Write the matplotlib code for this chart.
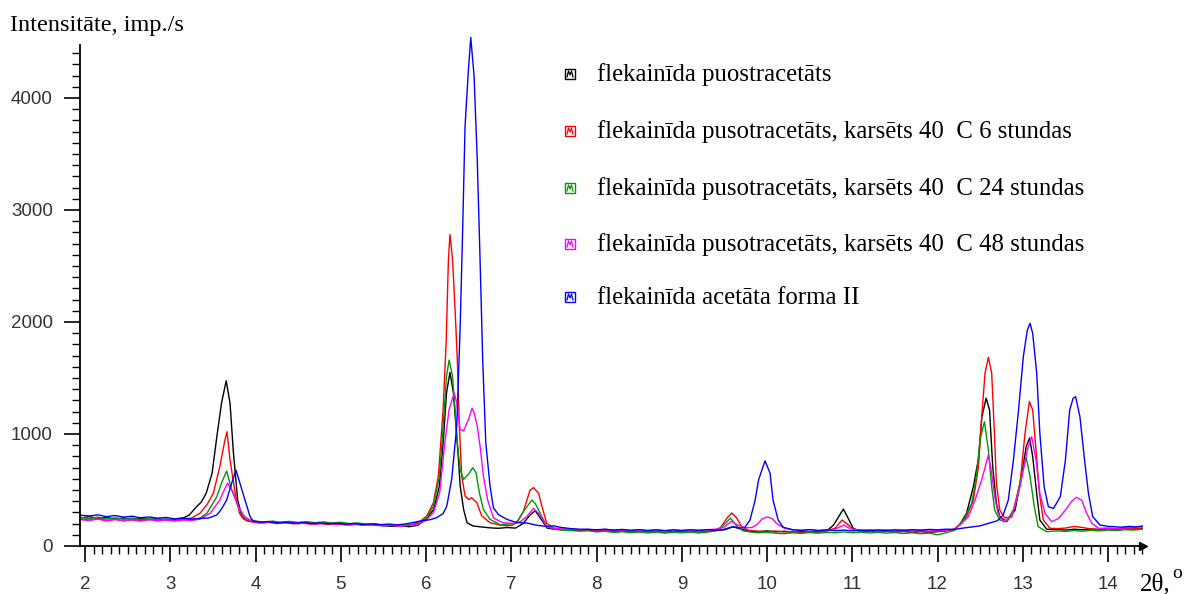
import matplotlib
matplotlib.use("Agg")
import matplotlib.pyplot as plt
from matplotlib.ticker import MultipleLocator
from matplotlib.patches import Rectangle
from matplotlib.lines import Line2D

# (2theta, intensity)
black_pts = [(1.95,250),(2.05,262),(2.15,245),(2.25,255),(2.35,240),(2.45,250),(2.55,238),(2.65,248),(2.75,236),(2.85,244),
    (2.95,232),(3.05,240),(3.15,250),(3.22,275),(3.30,345),(3.36,390),(3.42,470),(3.49,650),(3.545,975),(3.60,1275),
    (3.655,1475),(3.70,1275),(3.74,830),(3.79,410),(3.84,262),(3.90,225),(4.0,215),(4.1,210),(4.2,218),(4.3,205),
    (4.4,212),(4.5,200),(4.6,208),(4.7,198),(4.8,205),(4.9,195),(5.0,200),(5.1,190),(5.2,196),(5.3,185),(5.4,192),
    (5.5,180),(5.6,176),(5.7,183),(5.8,172),(5.9,185),(6.0,238),(6.09,327),(6.156,536),(6.20,923),(6.24,1369),
    (6.28,1550),(6.32,1369),(6.35,1071),(6.38,774),(6.40,536),(6.44,327),(6.48,208),(6.55,179),(6.65,170),(6.75,162),
    (6.85,158),(6.95,165),(7.05,160),(7.14,202),(7.22,277),(7.28,315),(7.34,250),(7.42,160),(7.5,150),(7.6,145),
    (7.7,148),(7.8,140),(7.9,145),(8.0,138),(8.1,132),(8.2,140),(8.3,130),(8.4,136),(8.5,128),(8.6,135),(8.7,130),
    (8.8,138),(8.9,126),(9.0,134),(9.1,128),(9.2,136),(9.3,130),(9.4,138),(9.5,145),(9.6,172),(9.7,150),(9.8,132),
    (9.9,128),(10.0,135),(10.1,126),(10.2,132),(10.3,124),(10.4,130),(10.5,122),(10.6,128),(10.7,135),(10.78,187),
    (10.84,262),(10.895,330),(10.95,250),(11.01,158),(11.1,130),(11.2,136),(11.3,128),(11.4,134),(11.5,126),
    (11.6,132),(11.7,124),(11.8,130),(11.9,122),(12.0,128),(12.1,135),(12.2,150),(12.26,190),(12.34,292),(12.42,530),
    (12.48,780),(12.52,1155),(12.57,1320),(12.61,1214),(12.647,708),(12.69,381),(12.73,262),(12.81,217),(12.91,321),
    (12.99,649),(13.04,887),(13.08,965),(13.116,798),(13.163,470),(13.20,232),(13.28,150),(13.4,148),(13.5,142),
    (13.6,150),(13.7,145),(13.8,152),(13.9,146),(14.0,154),(14.1,148),(14.2,156),(14.3,150),(14.4,158)]

red_pts = [(1.95,240),(2.05,232),(2.15,245),(2.25,228),(2.35,238),(2.45,225),(2.55,235),(2.65,228),(2.75,240),(2.85,226),
    (2.95,234),(3.05,228),(3.15,238),(3.25,250),(3.35,294),(3.43,370),(3.505,473),(3.58,708),(3.64,946),(3.665,1020),
    (3.70,768),(3.76,473),(3.81,294),(3.86,240),(3.95,215),(4.05,205),(4.15,212),(4.25,200),(4.35,208),(4.45,198),
    (4.55,205),(4.65,195),(4.75,202),(4.85,192),(4.95,198),(5.05,188),(5.15,195),(5.25,186),(5.35,190),(5.45,182),
    (5.55,188),(5.65,178),(5.75,184),(5.85,195),(5.93,220),(6.008,268),(6.086,387),(6.144,625),(6.20,1220),
    (6.235,1815),(6.262,2559),(6.28,2780),(6.31,2559),(6.34,2113),(6.366,1667),(6.39,1071),(6.418,625),(6.457,446),
    (6.50,415),(6.535,430),(6.594,387),(6.653,268),(6.75,208),(6.87,187),(6.95,180),(7.02,187),(7.08,230),(7.14,306),
    (7.22,500),(7.26,521),(7.32,470),(7.36,351),(7.415,202),(7.5,160),(7.6,150),(7.7,145),(7.8,140),(7.9,146),
    (8.0,134),(8.1,140),(8.2,128),(8.3,136),(8.4,126),(8.5,132),(8.6,124),(8.7,130),(8.8,122),(8.9,128),(9.0,125),
    (9.1,132),(9.2,124),(9.3,130),(9.38,140),(9.45,158),(9.53,250),(9.585,295),(9.645,250),(9.70,173),(9.78,140),
    (9.9,132),(10.0,128),(10.1,134),(10.2,125),(10.3,130),(10.4,122),(10.5,128),(10.6,124),(10.7,132),(10.8,160),
    (10.88,232),(10.95,190),(11.02,145),(11.1,130),(11.2,136),(11.3,126),(11.4,132),(11.5,124),(11.6,130),
    (11.7,122),(11.8,128),(11.9,125),(12.0,130),(12.1,138),(12.2,150),(12.26,187),(12.34,262),(12.42,410),
    (12.48,708),(12.518,1155),(12.557,1544),(12.596,1685),(12.635,1544),(12.667,1006),(12.69,560),(12.73,321),
    (12.79,250),(12.87,262),(12.968,560),(13.026,1006),(13.077,1290),(13.116,1214),(13.155,857),(13.195,470),
    (13.24,232),(13.32,158),(13.4,155),(13.5,160),(13.6,175),(13.7,165),(13.8,152),(13.9,148),(14.0,155),
    (14.1,150),(14.2,158),(14.3,152),(14.4,160)]

green_pts = [(1.95,255),(2.05,245),(2.15,258),(2.25,240),(2.35,252),(2.45,238),(2.55,250),(2.65,236),(2.75,246),
    (2.85,232),(2.95,242),(3.05,230),(3.15,240),(3.25,236),(3.35,250),(3.43,294),(3.545,440),(3.60,562),(3.66,670),
    (3.72,500),(3.78,384),(3.85,277),(3.92,235),(4.0,222),(4.1,215),(4.2,222),(4.3,212),(4.4,220),(4.5,210),
    (4.6,218),(4.7,208),(4.8,215),(4.9,205),(5.0,212),(5.1,200),(5.2,206),(5.3,194),(5.4,200),(5.5,188),(5.6,194),
    (5.7,184),(5.8,190),(5.9,198),(6.008,253),(6.086,357),(6.156,625),(6.20,1071),(6.24,1518),(6.27,1660),
    (6.31,1518),(6.34,1220),(6.366,923),(6.40,684),(6.44,595),(6.497,640),(6.547,699),(6.586,655),(6.625,476),
    (6.672,327),(6.75,238),(6.87,190),(6.95,195),(7.06,202),(7.14,306),(7.24,410),(7.28,380),(7.34,292),
    (7.415,173),(7.5,150),(7.6,142),(7.7,138),(7.8,132),(7.9,136),(8.0,126),(8.1,132),(8.2,120),(8.3,128),
    (8.4,118),(8.5,125),(8.6,116),(8.7,124),(8.8,115),(8.9,122),(9.0,118),(9.1,125),(9.2,116),(9.3,124),(9.4,135),
    (9.51,200),(9.57,250),(9.65,173),(9.72,135),(9.8,125),(9.9,118),(10.0,122),(10.1,114),(10.2,110),(10.3,118),
    (10.4,112),(10.5,120),(10.6,114),(10.7,122),(10.8,118),(10.9,126),(11.0,118),(11.1,124),(11.2,116),(11.3,122),
    (11.4,115),(11.5,120),(11.6,112),(11.7,118),(11.8,110),(11.9,115),(12.0,100),(12.1,118),(12.2,140),(12.32,250),
    (12.40,381),(12.46,649),(12.498,946),(12.55,1110),(12.596,857),(12.635,530),(12.67,321),(12.73,232),(12.81,217),
    (12.91,351),(12.98,619),(13.04,790),(13.085,619),(13.135,351),(13.18,173),(13.28,128),(13.4,135),(13.5,130),
    (13.6,138),(13.7,132),(13.8,140),(13.9,135),(14.0,142),(14.1,138),(14.2,146),(14.3,142),(14.4,150)]

magenta_pts = [(1.95,235),(2.05,228),(2.15,240),(2.25,224),(2.35,236),(2.45,226),(2.55,232),(2.65,222),(2.75,234),
    (2.85,225),(2.95,230),(3.05,222),(3.15,232),(3.25,228),(3.35,240),(3.47,294),(3.58,410),(3.62,480),(3.67,562),
    (3.74,473),(3.795,351),(3.87,262),(3.94,228),(4.0,215),(4.1,208),(4.2,214),(4.3,204),(4.4,210),(4.5,200),
    (4.6,206),(4.7,196),(4.8,202),(4.9,193),(5.0,198),(5.1,188),(5.2,194),(5.3,185),(5.4,190),(5.5,180),(5.6,186),
    (5.7,178),(5.8,184),(5.9,195),(6.0,230),(6.086,298),(6.16,476),(6.22,923),(6.27,1220),(6.33,1366),(6.36,1280),
    (6.40,1041),(6.44,1027),(6.497,1130),(6.54,1230),(6.563,1190),(6.60,1071),(6.633,893),(6.672,625),(6.72,417),
    (6.79,250),(6.90,208),(7.02,202),(7.10,215),(7.18,262),(7.26,336),(7.34,277),(7.415,173),(7.5,158),(7.6,150),
    (7.7,152),(7.8,145),(7.9,150),(8.0,142),(8.1,148),(8.2,140),(8.3,146),(8.4,138),(8.5,145),(8.6,137),(8.7,144),
    (8.8,136),(8.9,143),(9.0,138),(9.1,145),(9.2,140),(9.3,146),(9.4,150),(9.5,170),(9.58,220),(9.66,185),
    (9.75,162),(9.82,165),(9.88,190),(9.94,240),(10.0,259),(10.06,245),(10.11,202),(10.2,160),(10.3,145),(10.4,140),
    (10.5,146),(10.6,138),(10.7,144),(10.8,150),(10.9,187),(10.98,152),(11.1,140),(11.2,146),(11.3,138),(11.4,144),
    (11.5,136),(11.6,142),(11.7,135),(11.8,140),(11.9,134),(12.0,138),(12.1,140),(12.2,150),(12.28,200),(12.36,262),
    (12.44,410),(12.518,589),(12.596,813),(12.635,649),(12.67,440),(12.71,292),(12.77,217),(12.87,262),(12.968,530),
    (13.053,857),(13.104,976),(13.155,768),(13.20,470),(13.26,292),(13.34,217),(13.42,247),(13.50,321),(13.57,396),
    (13.63,435),(13.69,410),(13.75,292),(13.81,202),(13.89,158),(14.0,160),(14.1,155),(14.2,162),(14.3,165),
    (14.4,175)]

blue_pts = [(1.95,275),(2.05,268),(2.15,278),(2.25,262),(2.35,272),(2.45,258),(2.55,266),(2.65,252),(2.75,260),
    (2.85,248),(2.95,255),(3.05,242),(3.15,250),(3.25,240),(3.35,246),(3.45,250),(3.545,277),(3.60,330),(3.66,410),
    (3.72,562),(3.77,678),(3.84,500),(3.90,351),(3.935,262),(3.97,225),(4.05,212),(4.15,218),(4.25,206),(4.35,214),
    (4.45,203),(4.55,210),(4.65,200),(4.75,208),(4.85,198),(4.95,204),(5.05,195),(5.15,201),(5.25,192),(5.35,198),
    (5.45,190),(5.55,195),(5.65,188),(5.75,196),(5.85,210),(5.93,223),(6.05,235),(6.125,253),(6.20,290),(6.243,357),
    (6.30,595),(6.36,1071),(6.40,1964),(6.43,2857),(6.457,3750),(6.497,4256),(6.524,4540),(6.563,4196),(6.60,3452),
    (6.633,2559),(6.664,1667),(6.70,923),(6.75,536),(6.79,340),(6.85,280),(6.947,238),(7.06,210),(7.18,205),
    (7.3,185),(7.41,175),(7.5,180),(7.57,167),(7.7,155),(7.8,150),(7.9,148),(8.0,145),(8.1,150),(8.2,142),(8.3,148),
    (8.4,140),(8.5,146),(8.6,138),(8.7,145),(8.8,137),(8.9,144),(9.0,138),(9.1,145),(9.2,140),(9.3,146),(9.4,142),
    (9.5,150),(9.6,172),(9.68,160),(9.74,167),(9.80,232),(9.86,410),(9.90,589),(9.976,760),(10.035,650),(10.07,410),
    (10.13,232),(10.19,167),(10.3,145),(10.4,140),(10.5,146),(10.6,138),(10.7,144),(10.8,136),(10.9,142),(11.0,135),
    (11.1,142),(11.2,136),(11.3,144),(11.4,138),(11.5,145),(11.6,140),(11.7,146),(11.8,142),(11.9,148),(12.0,145),
    (12.1,150),(12.2,148),(12.3,160),(12.4,170),(12.5,180),(12.6,202),(12.7,225),(12.77,277),(12.83,410),(12.89,768),
    (12.95,1214),(13.006,1690),(13.053,1928),(13.085,1988),(13.116,1899),(13.163,1542),(13.20,1006),(13.25,530),
    (13.30,351),(13.36,336),(13.44,440),(13.50,768),(13.55,1214),(13.59,1318),(13.62,1333),(13.67,1155),(13.72,798),
    (13.77,470),(13.82,262),(13.906,187),(14.0,175),(14.06,173),(14.15,168),(14.25,175),(14.33,170),(14.4,178)]

labels = ["flekainīda puostracetāts",
          "flekainīda pusotracetāts, karsēts 40  C 6 stundas",
          "flekainīda pusotracetāts, karsēts 40  C 24 stundas",
          "flekainīda pusotracetāts, karsēts 40  C 48 stundas",
          "flekainīda acetāta forma II"]
colors = ["#000000", "#ff0000", "#009a00", "#ff00ff", "#0000ff"]
series = [black_pts, red_pts, green_pts, magenta_pts, blue_pts]

W, H = 1186, 594
fig = plt.figure(figsize=(W / 100, H / 100), dpi=100)
ax = fig.add_axes([80 / W, 48 / H, 1063 / W, 501 / H])

for pts, c in zip(series, colors):
    xs = [p[0] for p in pts]
    ys = [p[1] for p in pts]
    ax.plot(xs, ys, color=c, lw=1.0, clip_on=False)

ax.set_xlim(1.94, 14.41)
ax.set_ylim(0, 4473)
for s in ["top", "right"]:
    ax.spines[s].set_visible(False)
for s in ["left", "bottom"]:
    ax.spines[s].set_linewidth(1.3)

ax.xaxis.set_major_locator(MultipleLocator(1))
ax.xaxis.set_minor_locator(MultipleLocator(0.1))
ax.yaxis.set_major_locator(MultipleLocator(1000))
ax.yaxis.set_minor_locator(MultipleLocator(100))
ax.tick_params(which="major", length=11.5, width=1.2, labelsize=13.5, labelcolor="#333333")
ax.tick_params(axis="x", which="major", pad=10)
ax.tick_params(axis="y", which="major", pad=8)
ax.tick_params(which="minor", length=5.5, width=1.0)
for t in ax.get_xticklabels() + ax.get_yticklabels():
    t.set_fontfamily("Liberation Sans")

# arrow head at end of x axis
ax.plot([1], [0], marker=">", ms=6, color="k", transform=ax.transAxes, clip_on=False)

fig.text(10 / W, 1 - 25 / H, "Intensitāte, imp./s", family="Liberation Serif",
         fontsize=17.5, va="center", ha="left")
fig.text(1140 / W, 1 - 584 / H, "2θ,", family="Liberation Serif", fontsize=18, va="center", ha="left")
fig.text(1172 / W, 1 - 573 / H, "o", family="Liberation Serif", fontsize=14, va="center", ha="left")

# legend drawn by hand: small square icons + serif text
rows_y = [75, 132, 189, 245, 298]
for yy, c, lab in zip(rows_y, colors, labels):
    fx, fy = 565 / W, 1 - (yy + 4) / H
    fig.add_artist(Rectangle((fx, fy), 10 / W, 10 / H, transform=fig.transFigure,
                             fill=False, edgecolor=c, lw=1.0))
    zx = [fx + 2 / W, fx + 3.5 / W, fx + 5 / W, fx + 6.5 / W, fx + 8 / W]
    zy = [fy + 2 / H, fy + 8 / H, fy + 4 / H, fy + 8 / H, fy + 2 / H]
    fig.add_artist(Line2D(zx, zy, transform=fig.transFigure, color=c, lw=0.9))
    fig.text(597 / W, 1 - yy / H, lab, family="Liberation Serif", fontsize=17.8,
             va="center", ha="left")

fig.savefig("out.png", dpi=100)
